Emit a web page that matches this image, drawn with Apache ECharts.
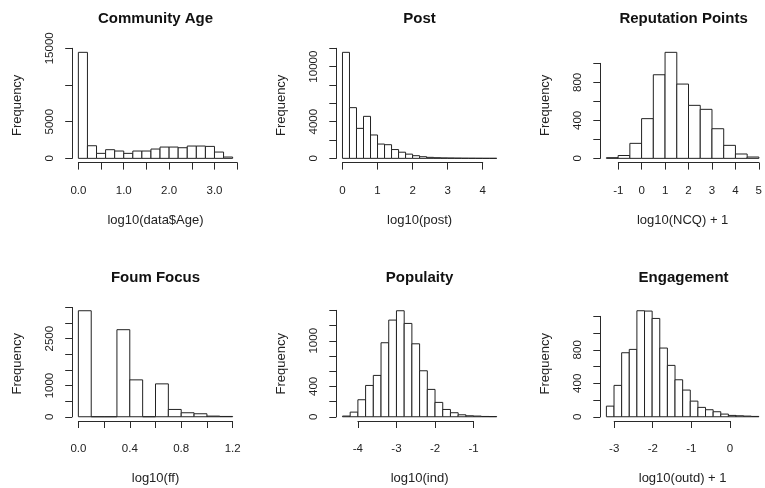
<!DOCTYPE html>
<html>
<head>
<meta charset="utf-8">
<title>Histograms</title>
<script src="https://cdn.jsdelivr.net/npm/echarts@6/dist/echarts.min.js"></script>
<style>
  html, body { margin: 0; padding: 0; background: #fff; }
  #chart { width: 765px; height: 488px; }
</style>
</head>
<body>
<div id="chart"></div>
<script>
// bin edges / counts
const ageEdges = [0.0, 0.2, 0.4, 0.6, 0.8, 1.0, 1.2, 1.4, 1.6, 1.8, 2.0, 2.2, 2.4, 2.6, 2.8, 3.0, 3.2, 3.4];
const ageCounts = [14450, 1720, 680, 1180, 1000, 680, 1000, 1000, 1270, 1540, 1540, 1450, 1680, 1680, 1630, 860, 180];
const ageXAxis = [0, 3.5, 0.5];
const ageXLabels = ["0.0", "", "1.0", "", "2.0", "", "3.0", ""];
const ageYAxis = [0, 15000, 5000];
const ageYLabels = ["0", "5000", "", "15000"];

const postEdges = [0.0, 0.2, 0.4, 0.6, 0.8, 1.0, 1.2, 1.4, 1.6, 1.8, 2.0, 2.2, 2.4, 2.6, 2.8, 3.0, 3.2, 3.4, 3.6, 3.8, 4.0, 4.2, 4.4];
const postCounts = [11560, 5530, 3270, 4580, 2550, 1560, 1490, 960, 670, 460, 290, 180, 110, 70, 50, 40, 30, 20, 15, 10, 5, 5];
const postXAxis = [0, 4, 1];
const postXLabels = ["0", "1", "2", "3", "4"];
const postYAxis = [0, 12000, 2000];
const postYLabels = ["0", "", "4000", "", "", "10000", ""];

const repEdges = [-1.5, -1.0, -0.5, 0.0, 0.5, 1.0, 1.5, 2.0, 2.5, 3.0, 3.5, 4.0, 4.5, 5.0];
const repCounts = [7, 30, 158, 418, 880, 1116, 782, 558, 516, 312, 137, 46, 14];
const repXAxis = [-1, 5, 1];
const repXLabels = ["-1", "0", "1", "2", "3", "4", "5"];
const repYAxis = [0, 1000, 200];
const repYLabels = ["0", "", "400", "", "800", ""];

const ffEdges = [0.0, 0.1, 0.2, 0.3, 0.4, 0.5, 0.6, 0.7, 0.8, 0.9, 1.0, 1.1, 1.2];
const ffCounts = [3394, 0, 0, 2787, 1181, 0, 1053, 234, 128, 96, 21, 10];
const ffXAxis = [0, 1.2, 0.2];
const ffXLabels = ["0.0", "", "0.4", "", "0.8", "", "1.2"];
const ffYAxis = [0, 3500, 500];
const ffYLabels = ["0", "", "1000", "", "", "2500", "", ""];

const popEdges = [-4.4, -4.2, -4.0, -3.8, -3.6, -3.4, -3.2, -3.0, -2.8, -2.6, -2.4, -2.2, -2.0, -1.8, -1.6, -1.4, -1.2, -1.0, -0.8, -0.6, -0.4];
const popCounts = [9, 61, 224, 412, 544, 974, 1272, 1395, 1228, 960, 605, 360, 189, 96, 53, 26, 13, 9, 4, 3];
const popXAxis = [-4, -1, 1];
const popXLabels = ["-4", "-3", "-2", "-1"];
const popYAxis = [0, 1400, 200];
const popYLabels = ["0", "", "400", "", "", "1000", "", ""];

const engEdges = [-3.2, -3.0, -2.8, -2.6, -2.4, -2.2, -2.0, -1.8, -1.6, -1.4, -1.2, -1.0, -0.8, -0.6, -0.4, -0.2, 0.0, 0.2, 0.4, 0.6, 0.8];
const engCounts = [127, 375, 765, 805, 1267, 1263, 1175, 821, 614, 442, 319, 187, 112, 84, 60, 32, 16, 12, 8, 4];
const engXAxis = [-3, 0, 1];
const engXLabels = ["-3", "-2", "-1", "0"];
const engYAxis = [0, 1200, 200];
const engYLabels = ["0", "", "400", "", "800", "", ""];

const panels = [
  { title: "Community Age", xName: "log10(data$Age)", edges: ageEdges, counts: ageCounts, xAxis: ageXAxis, xLabels: ageXLabels, yAxis: ageYAxis, yLabels: ageYLabels },
  { title: "Post", xName: "log10(post)", edges: postEdges, counts: postCounts, xAxis: postXAxis, xLabels: postXLabels, yAxis: postYAxis, yLabels: postYLabels },
  { title: "Reputation Points", xName: "log10(NCQ) + 1", edges: repEdges, counts: repCounts, xAxis: repXAxis, xLabels: repXLabels, yAxis: repYAxis, yLabels: repYLabels },
  { title: "Foum Focus", xName: "log10(ff)", edges: ffEdges, counts: ffCounts, xAxis: ffXAxis, xLabels: ffXLabels, yAxis: ffYAxis, yLabels: ffYLabels },
  { title: "Populaity", xName: "log10(ind)", edges: popEdges, counts: popCounts, xAxis: popXAxis, xLabels: popXLabels, yAxis: popYAxis, yLabels: popYLabels },
  { title: "Engagement", xName: "log10(outd) + 1", edges: engEdges, counts: engCounts, xAxis: engXAxis, xLabels: engXLabels, yAxis: engYAxis, yLabels: engYLabels },
];

// plot regions (R style 2x3 layout)
const colLeft = [72.2, 336.3, 600.3];
const rowTop = [48.1, 306.5];
const plotW = 166.6;
const plotH = 114.5;

const font = "'Liberation Sans', Arial, Helvetica, sans-serif";
const ink = "#222";
const lineStyle = { color: "#2a2a2a", width: 1 };

const hidden = {
  axisLine: { show: false },
  axisTick: { show: false },
  axisLabel: { show: false },
  splitLine: { show: false },
};

const grids = [], xAxes = [], yAxes = [], series = [], titles = [];

panels.forEach((p, i) => {
  const left = colLeft[i % 3];
  const top = rowTop[Math.floor(i / 3)];
  const lo = p.edges[0], hi = p.edges[p.edges.length - 1];
  const pad = (hi - lo) * 0.04;
  const xMin = lo - pad, xMax = hi + pad;
  const cMax = Math.max(...p.counts);
  const yMin = -cMax * 0.04, yMax = cMax * 1.04;
  const px = (v) => left + ((v - xMin) / (xMax - xMin)) * plotW;
  const py = (v) => top + plotH - ((v - yMin) / (yMax - yMin)) * plotH;
  const [xt0, xt1, xStep] = p.xAxis;
  const [yt0, yt1, yStep] = p.yAxis;

  // data grid (whole plot region)
  grids.push({ left, top, width: plotW, height: plotH });
  xAxes.push({
    gridIndex: 2 * i, type: "value", min: xMin, max: xMax, ...hidden,
    name: p.xName, nameLocation: "middle", nameGap: 51,
    nameTextStyle: { fontFamily: font, fontSize: 13, color: ink },
  });
  yAxes.push({
    gridIndex: 2 * i, type: "value", min: yMin, max: yMax, ...hidden,
    name: "Frequency", nameLocation: "middle", nameRotate: 90, nameGap: 48,
    nameTextStyle: { fontFamily: font, fontSize: 13, color: ink },
  });

  // axis grid (tick range only, like R's axis())
  grids.push({ left: px(xt0), top: py(yt1), width: px(xt1) - px(xt0), height: py(yt0) - py(yt1) });
  xAxes.push({
    gridIndex: 2 * i + 1, type: "value", min: xt0, max: xt1, interval: xStep,
    offset: top + plotH - py(yt0),
    axisLine: { onZero: false, lineStyle },
    axisTick: { length: 7, lineStyle },
    splitLine: { show: false },
    axisLabel: {
      margin: 22, fontFamily: font, fontSize: 11.5, color: ink,
      formatter: (v) => p.xLabels[Math.round((v - xt0) / xStep)] || "",
    },
  });
  yAxes.push({
    gridIndex: 2 * i + 1, type: "value", min: yt0, max: yt1, interval: yStep,
    offset: px(xt0) - left,
    axisLine: { onZero: false, lineStyle },
    axisTick: { length: 7, lineStyle },
    splitLine: { show: false },
    axisLabel: {
      rotate: 90, margin: 16, fontFamily: font, fontSize: 11.5, color: ink,
      formatter: (v) => p.yLabels[Math.round((v - yt0) / yStep)] || "",
    },
  });

  series.push({
    type: "custom",
    xAxisIndex: 2 * i,
    yAxisIndex: 2 * i,
    silent: true,
    data: p.counts.map((c, k) => [p.edges[k], p.edges[k + 1], c]),
    encode: { x: [0, 1], y: 2 },
    renderItem: (params, api) => {
      const a = api.coord([api.value(0), api.value(2)]);
      const b = api.coord([api.value(1), 0]);
      return {
        type: "rect",
        shape: { x: a[0], y: a[1], width: b[0] - a[0], height: b[1] - a[1] },
        style: { fill: "#fff", stroke: ink, lineWidth: 1 },
      };
    },
  });

  titles.push({
    text: p.title,
    left: left + plotW / 2,
    top: top - 38,
    textAlign: "center",
    padding: 0,
    textStyle: { fontFamily: font, fontSize: 15, fontWeight: "bold", color: "#111", lineHeight: 18 },
  });
});

const chart = echarts.init(document.getElementById("chart"));
chart.setOption({
  animation: false,
  backgroundColor: "#fff",
  title: titles,
  grid: grids,
  xAxis: xAxes,
  yAxis: yAxes,
  series,
});
</script>
</body>
</html>
